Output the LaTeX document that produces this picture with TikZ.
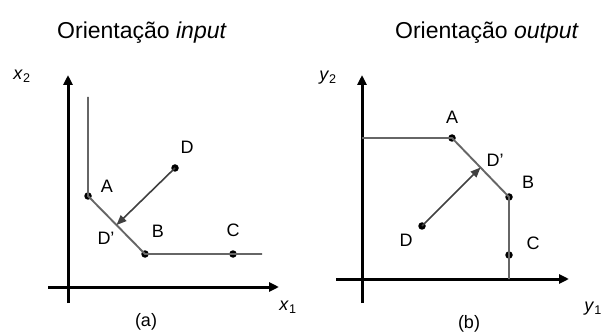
\documentclass[tikz,border=0pt]{standalone}
\usepackage{fontspec}
\setmainfont{Liberation Sans}
\usetikzlibrary{arrows.meta,calc}

\begin{document}
\begin{tikzpicture}[x=1pt,y=-1pt,
 axis/.style={line width=3pt,-{Triangle[length=10pt,width=9pt]}},
 front/.style={line width=1.9pt,draw=black!60},
 proj/.style={line width=1.6pt,draw=black!75,-{Triangle[length=10pt,width=8pt]}},
 pt/.style={circle,fill=black,inner sep=0pt,minimum size=7.5pt},
 lbl/.style={font=\fontsize{18}{18}\selectfont},
 ttl/.style={font=\fontsize{23}{23}\selectfont}]
 \useasboundingbox (0,0) rectangle (603,334);
 % painel (a): orientacao input
 \node[ttl] (tit1) at (142,33) {Orientação \textit{input}};
 \coordinate (ybot1) at (68,303);
 \coordinate (ytop1) at (68,75);
 \coordinate (xlft1) at (48,287);
 \coordinate (xrgt1) at (279,287);
 \draw[axis] (ybot1)--(ytop1);
 \draw[axis] (xlft1)--(xrgt1);
 \node[lbl] (lx2) at (22,76) {\textit{x}\textsubscript{2}};
 \node[lbl] (lx1) at (288,307) {\textit{x}\textsubscript{1}};
 \node[lbl] (cap1) at (146,322) {(a)};
 \node[pt] (A1) at (88,196) {};
 \node[pt] (B1) at (145,254) {};
 \node[pt] (C1) at (233,254) {};
 \node[pt] (D1) at (175,168) {};
 \coordinate (ftop1) at (88,97);
 \coordinate (fend1) at (262,254);
 \coordinate (Dp1) at ($(A1)!0.5!(B1)$);
 \draw[front] (ftop1)--(A1.center)--(B1.center)--(fend1);
 \draw[proj] (D1.center)--(Dp1);
 \node[lbl] (lA1) at (107,186) {A};
 \node[lbl] (lB1) at (158,231) {B};
 \node[lbl] (lC1) at (233,230) {C};
 \node[lbl] (lD1) at (187,147) {D};
 \node[lbl] (lDp1) at (106,238) {D'};
 % painel (b): orientacao output
 \node[ttl] (tit2) at (487,33) {Orientação \textit{output}};
 \coordinate (ybot2) at (362,303);
 \coordinate (ytop2) at (362,75);
 \coordinate (xlft2) at (336,279);
 \coordinate (xrgt2) at (569,279);
 \draw[axis] (ybot2)--(ytop2);
 \draw[axis] (xlft2)--(xrgt2);
 \node[lbl] (ly2) at (328,78) {\textit{y}\textsubscript{2}};
 \node[lbl,anchor=east,inner sep=1pt] (ly1) at (603,309) {\textit{y}\textsubscript{1}};
 \node[lbl] (cap2) at (469,324) {(b)};
 \node[pt] (A2) at (452,138) {};
 \node[pt] (B2) at (509,197) {};
 \node[pt] (C2) at (509,255) {};
 \node[pt] (D2) at (422,226) {};
 \coordinate (fbeg2) at (362,138);
 \coordinate (fend2) at (509,279);
 \coordinate (Dp2) at ($(A2)!0.5!(B2)$);
 \draw[front] (fbeg2)--(A2.center)--(B2.center)--(fend2);
 \draw[proj] (D2.center)--(Dp2);
 \node[lbl] (lA2) at (452,117) {A};
 \node[lbl] (lB2) at (528,182) {B};
 \node[lbl] (lC2) at (533,243) {C};
 \node[lbl] (lD2) at (406,240) {D};
 \node[lbl] (lDp2) at (495,160) {D'};
\end{tikzpicture}
\end{document}
